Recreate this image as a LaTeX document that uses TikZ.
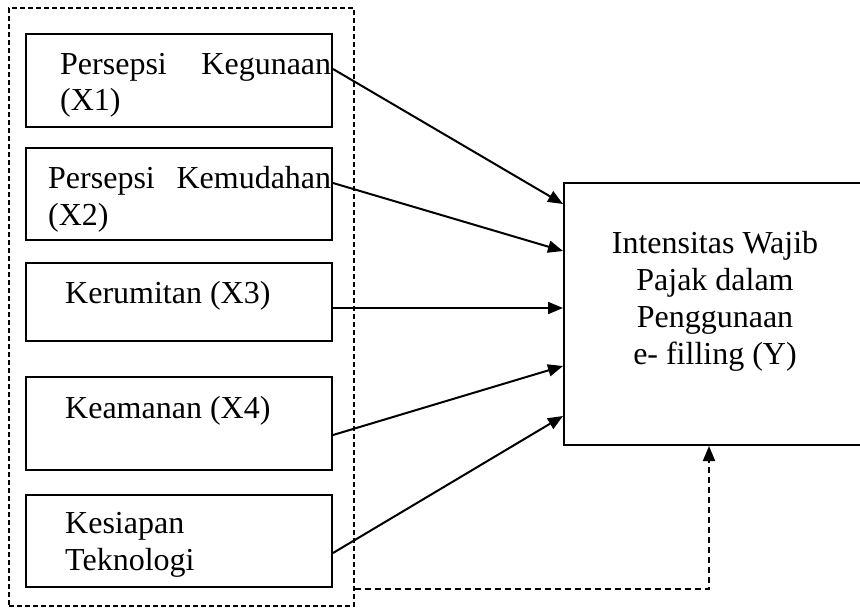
\documentclass[tikz,border=0pt]{standalone}
\usepackage{fontspec}
\setmainfont{Liberation Serif}
\usetikzlibrary{arrows.meta}
\begin{document}
\begin{tikzpicture}[x=1pt,y=-1pt,
  varbox/.style={draw, line width=2pt, rectangle, inner sep=0pt, anchor=north west},
  lbl/.style={inner sep=0pt, anchor=base west, font=\fontsize{32}{37}\selectfont},
  outerbox/.style={draw, line width=2pt, dash pattern=on 5pt off 3pt, rectangle, inner sep=0pt, anchor=north west},
  conn/.style={line width=2pt, -{Triangle[length=15pt,width=12pt]}},
  fb/.style={line width=2pt, dash pattern=on 6pt off 4pt, -{Triangle[length=15pt,width=12pt]}}]
\useasboundingbox (0,0) rectangle (860,608);
% outer dashed group
\node[outerbox, minimum width=345pt, minimum height=598pt] (outer) at (8,7) {};
% variable boxes
\node[varbox, minimum width=306pt, minimum height=93pt] (b1) at (25,33) {};
\node[varbox, minimum width=306pt, minimum height=92pt] (b2) at (25,147) {};
\node[varbox, minimum width=306pt, minimum height=78pt] (b3) at (25,262) {};
\node[varbox, minimum width=306pt, minimum height=93pt] (b4) at (25,376) {};
\node[varbox, minimum width=306pt, minimum height=92pt] (b5) at (25,494) {};
% dependent box (extends past the right edge)
\node[varbox, minimum width=307pt, minimum height=262pt] (Y) at (563,182) {};
% labels
\node[lbl] (t1a) at (60,74) {\makebox[271pt][s]{Persepsi Kegunaan}};
\node[lbl] (t1b) at (60,110) {(X1)};
\node[lbl] (t2a) at (48,188) {\makebox[283pt][s]{Persepsi Kemudahan}};
\node[lbl] (t2b) at (48,225) {(X2)};
\node[lbl] (t3) at (65,303) {Kerumitan (X3)};
\node[lbl] (t4) at (65,418) {Keamanan (X4)};
\node[lbl] (t5a) at (65,533) {Kesiapan};
\node[lbl] (t5b) at (65,570) {Teknologi};
\node[inner sep=0pt, anchor=north, align=center, font=\fontsize{32}{37}\selectfont] (ty) at (715,231)
  {Intensitas Wajib\\Pajak dalam\\Penggunaan\\e- filling (Y)};
% connectors
\draw[conn] ([yshift=11.5pt]b1.east) -- ([yshift=110pt]Y.west);
\draw[conn] ([yshift=11pt]b2.east) -- ([yshift=63pt]Y.west);
\draw[conn] ([yshift=-6pt]b3.east) -- ([yshift=6pt]Y.west);
\draw[conn] ([yshift=-11.5pt]b4.east) -- ([yshift=-52pt]Y.west);
\draw[conn] ([yshift=-12pt]b5.east) -- ([yshift=-102pt]Y.west);
% feedback dashed arrow
\draw[fb] ([yshift=18pt]outer.south east) -| ([xshift=-8.5pt]Y.south);
\end{tikzpicture}
\end{document}
